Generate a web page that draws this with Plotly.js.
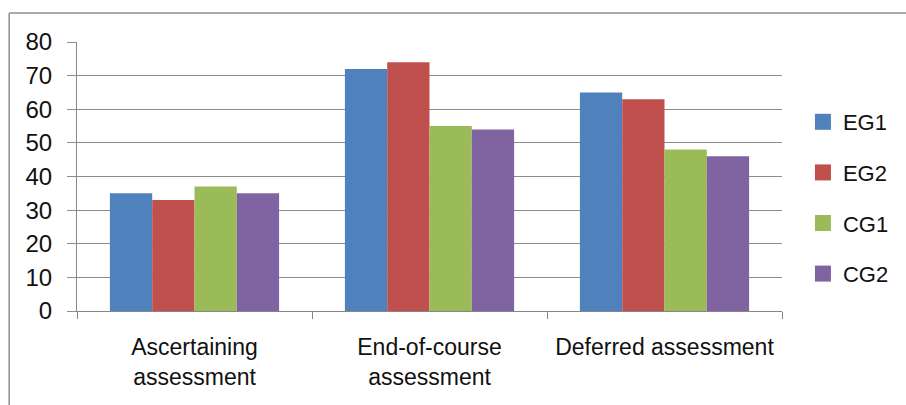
<!DOCTYPE html>
<html>
<head>
<meta charset="utf-8">
<script src="https://cdn.plot.ly/plotly-3.0.1.min.js"></script>
<style>
  html, body { margin: 0; padding: 0; background: #fff; }
  #chart { width: 906px; height: 405px; }
</style>
</head>
<body>
<div id="chart"></div>
<script>
const categories = ["Ascertaining<br>assessment", "End-of-course<br>assessment", "Deferred assessment"];
const seriesNames = ["EG1", "EG2", "CG1", "CG2"];
const EG1 = [35, 72, 65];
const EG2 = [33, 74, 63];
const CG1 = [37, 55, 48];
const CG2 = [35, 54, 46];
const yTicks = [0, 10, 20, 30, 40, 50, 60, 70, 80];
const colors = ["#4F81BD", "#C0504D", "#9BBB59", "#8064A2"];

const values = [EG1, EG2, CG1, CG2];
const traces = [];
values.forEach((v, i) => {
  traces.push({
    type: "bar",
    name: seriesNames[i],
    x: categories,
    y: v,
    marker: { color: colors[i], line: { width: 0 } },
    showlegend: false,
    hoverinfo: "x+y+name"
  });
});
values.forEach((v, i) => {
  traces.push({
    type: "scatter",
    mode: "markers",
    name: seriesNames[i],
    x: [null],
    y: [null],
    legendgroup: "g" + i,
    marker: { color: colors[i], symbol: "square", size: 16 },
    showlegend: true
  });
});

const L = 77, R = 784, T = 42, B = 311;
const W = 906, H = 405;
const pw = R - L, ph = B - T;

const layout = {
  width: W, height: H,
  margin: { l: L, r: W - R, t: T, b: H - B, pad: 0 },
  paper_bgcolor: "#ffffff",
  plot_bgcolor: "#ffffff",
  font: { family: "Liberation Sans, Arial, sans-serif", size: 24, color: "#111111" },
  barmode: "group",
  bargap: 0.28,
  bargroupgap: 0,
  showlegend: true,
  legend: {
    x: (805 - L) / pw, xanchor: "left",
    y: (B - 198) / ph, yanchor: "middle",
    traceorder: "grouped",
    tracegroupgap: 19,
    font: { size: 22, color: "#111111" },
    bgcolor: "rgba(0,0,0,0)"
  },
  xaxis: {
    type: "category",
    showgrid: false,
    showline: true,
    linecolor: "#868686",
    linewidth: 1,
    ticks: "outside",
    tickson: "boundaries",
    ticklen: 7,
    tickcolor: "#868686",
    tickangle: 0,
    ticklabelstandoff: 15,
    tickfont: { size: 23, color: "#111111" },
    fixedrange: true,
    zeroline: false
  },
  yaxis: {
    range: [0, 80],
    tickvals: yTicks,
    ticktext: yTicks.map(String),
    showgrid: true,
    gridcolor: "#8c8c8c",
    gridwidth: 1,
    showline: true,
    linecolor: "#868686",
    ticks: "outside",
    ticklen: 9,
    tickcolor: "#8c8c8c",
    ticklabelstandoff: 10,
    tickfont: { size: 24, color: "#111111" },
    zeroline: false,
    fixedrange: true
  },
  shapes: [
    { type: "line", xref: "paper", yref: "paper",
      x0: (9 - L) / pw, x1: (W + 5 - L) / pw, y0: (B - 13) / ph, y1: (B - 13) / ph,
      line: { color: "#8c8c8c", width: 1.5 } },
    { type: "line", xref: "paper", yref: "paper",
      x0: (9 - L) / pw, x1: (9 - L) / pw, y0: (B - 13) / ph, y1: (B - H - 5) / ph,
      line: { color: "#8c8c8c", width: 1.5 } }
  ]
};

Plotly.newPlot("chart", traces, layout, { displayModeBar: false, staticPlot: true });
</script>
</body>
</html>
